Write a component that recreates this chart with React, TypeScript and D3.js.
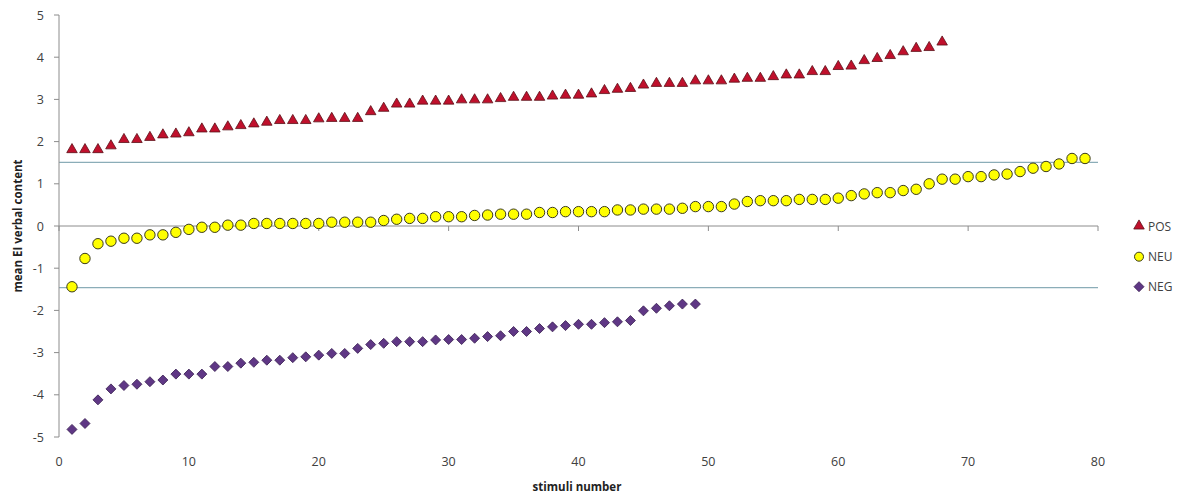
import React from "react";
import * as d3 from "d3";

const posValues = [
  1.81, 1.81, 1.81, 1.9, 2.05, 2.05, 2.1, 2.16, 2.18, 2.21,
  2.3, 2.3, 2.35, 2.38, 2.42, 2.46, 2.5, 2.5, 2.5, 2.54,
  2.55, 2.55, 2.55, 2.71, 2.79, 2.89, 2.89, 2.96, 2.96, 2.96,
  2.99, 2.99, 2.99, 3.02, 3.05, 3.05, 3.05, 3.08, 3.1, 3.1,
  3.13, 3.21, 3.24, 3.26, 3.34, 3.38, 3.38, 3.38, 3.44, 3.44,
  3.44, 3.48, 3.5, 3.5, 3.54, 3.58, 3.58, 3.66, 3.66, 3.78,
  3.79, 3.92, 3.97, 4.04, 4.13, 4.21, 4.23, 4.36,
];

const neuValues = [
  -1.44, -0.77, -0.42, -0.36, -0.29, -0.29, -0.21, -0.21, -0.15, -0.08,
  -0.03, -0.03, 0.02, 0.02, 0.06, 0.06, 0.06, 0.06, 0.06, 0.06,
  0.09, 0.09, 0.09, 0.09, 0.13, 0.16, 0.18, 0.18, 0.22, 0.22,
  0.22, 0.25, 0.26, 0.28, 0.28, 0.28, 0.32, 0.32, 0.34, 0.34,
  0.34, 0.34, 0.38, 0.38, 0.4, 0.4, 0.4, 0.42, 0.46, 0.46,
  0.46, 0.52, 0.58, 0.6, 0.6, 0.6, 0.63, 0.63, 0.63, 0.66,
  0.72, 0.76, 0.79, 0.79, 0.84, 0.87, 1.0, 1.11, 1.11, 1.17,
  1.17, 1.21, 1.23, 1.29, 1.37, 1.41, 1.47, 1.6, 1.6,
];

const negValues = [
  -4.82, -4.68, -4.12, -3.86, -3.78, -3.75, -3.69, -3.65, -3.51, -3.51,
  -3.51, -3.33, -3.33, -3.25, -3.23, -3.18, -3.18, -3.12, -3.1, -3.06,
  -3.02, -3.02, -2.9, -2.81, -2.78, -2.74, -2.74, -2.74, -2.7, -2.69,
  -2.69, -2.66, -2.62, -2.6, -2.5, -2.5, -2.43, -2.39, -2.36, -2.33,
  -2.33, -2.29, -2.27, -2.24, -2.01, -1.95, -1.89, -1.85, -1.85,
];

const xTicks = [0, 10, 20, 30, 40, 50, 60, 70, 80];
const yTicks = [-5, -4, -3, -2, -1, 0, 1, 2, 3, 4, 5];
const refLines = [1.51, -1.46];
const seriesNames = ["POS", "NEU", "NEG"];

const W = 1185;
const H = 493;
const FONT = "'Open Sans', 'Liberation Sans', sans-serif";

export default function App() {
  const x = d3.scaleLinear().domain([0, 80]).range([59, 1098]);
  const y = d3.scaleLinear().domain([-5, 5]).range([437, 15]);

  const tri = d3.symbol().type(d3.symbolTriangle).size(48)();
  const diamond = d3.symbol().type(d3.symbolSquare).size(50)();

  const legendY = [226, 256.7, 286.7];

  return (
    <svg
      width={W}
      height={H}
      style={{ position: "absolute", left: 0, top: 0, background: "#fff" }}
      fontFamily={FONT}
    >
      {refLines.map((v, i) => (
        <line
          key={"ref" + i}
          x1={x(0)}
          x2={x(80)}
          y1={y(v)}
          y2={y(v)}
          stroke="#8badb8"
          strokeWidth={1.3}
        />
      ))}

      <line x1={x(0)} x2={x(0)} y1={y(5)} y2={y(-5)} stroke="#8c8c8c" strokeWidth={1} />
      {yTicks.map((t) => (
        <g key={"yt" + t}>
          <line x1={x(0) - 5} x2={x(0)} y1={y(t)} y2={y(t)} stroke="#8c8c8c" />
          <text
            x={44}
            y={y(t)}
            textAnchor="end"
            dominantBaseline="central"
            fontSize={12.5}
            fill="#404040"
          >
            {t}
          </text>
        </g>
      ))}

      <line x1={x(0)} x2={x(80)} y1={y(0)} y2={y(0)} stroke="#8c8c8c" strokeWidth={1} />
      {xTicks.map((t) => (
        <g key={"xt" + t}>
          <line x1={x(t)} x2={x(t)} y1={y(0)} y2={y(0) + 5} stroke="#8c8c8c" />
          <text
            x={x(t)}
            y={461}
            textAnchor="middle"
            dominantBaseline="central"
            fontSize={12.5}
            fill="#404040"
          >
            {t}
          </text>
        </g>
      ))}

      <text
        x={577}
        y={486}
        textAnchor="middle"
        dominantBaseline="central"
        fontSize={11.5}
        fontWeight="bold"
        fill="#222"
      >
        stimuli number
      </text>
      <text
        transform={`translate(17, ${y(0)}) rotate(-90)`}
        textAnchor="middle"
        dominantBaseline="central"
        fontSize={11.5}
        fontWeight="bold"
        fill="#222"
      >
        mean EI verbal content
      </text>

      {negValues.map((v, i) => (
        <path
          key={"neg" + i}
          d={diamond}
          transform={`translate(${x(i + 1)}, ${y(v)}) rotate(45)`}
          fill="#5f3785"
          stroke="#3d2355"
          strokeWidth={0.8}
        />
      ))}

      {neuValues.map((v, i) => (
        <circle
          key={"neu" + i}
          cx={x(i + 1)}
          cy={y(v)}
          r={5.2}
          fill="#ffff00"
          stroke="#3a3a1e"
          strokeWidth={1}
        />
      ))}

      {posValues.map((v, i) => (
        <path
          key={"pos" + i}
          d={tri}
          transform={`translate(${x(i + 1)}, ${y(v)})`}
          fill="#c0102c"
          stroke="#5a1018"
          strokeWidth={0.8}
        />
      ))}

      {seriesNames.map((name, i) => (
        <g key={"lg" + name} transform={`translate(1139, ${legendY[i]})`}>
          {i === 0 && (
            <path d={tri} fill="#c0102c" stroke="#5a1018" strokeWidth={0.8} />
          )}
          {i === 1 && (
            <circle r={4.5} fill="#ffff00" stroke="#3a3a1e" strokeWidth={1} />
          )}
          {i === 2 && (
            <path
              d={diamond}
              transform="rotate(45)"
              fill="#5f3785"
              stroke="#3d2355"
              strokeWidth={0.8}
            />
          )}
          <text x={9} y={0} dominantBaseline="central" fontSize={12} fill="#404040">
            {name}
          </text>
        </g>
      ))}
    </svg>
  );
}
